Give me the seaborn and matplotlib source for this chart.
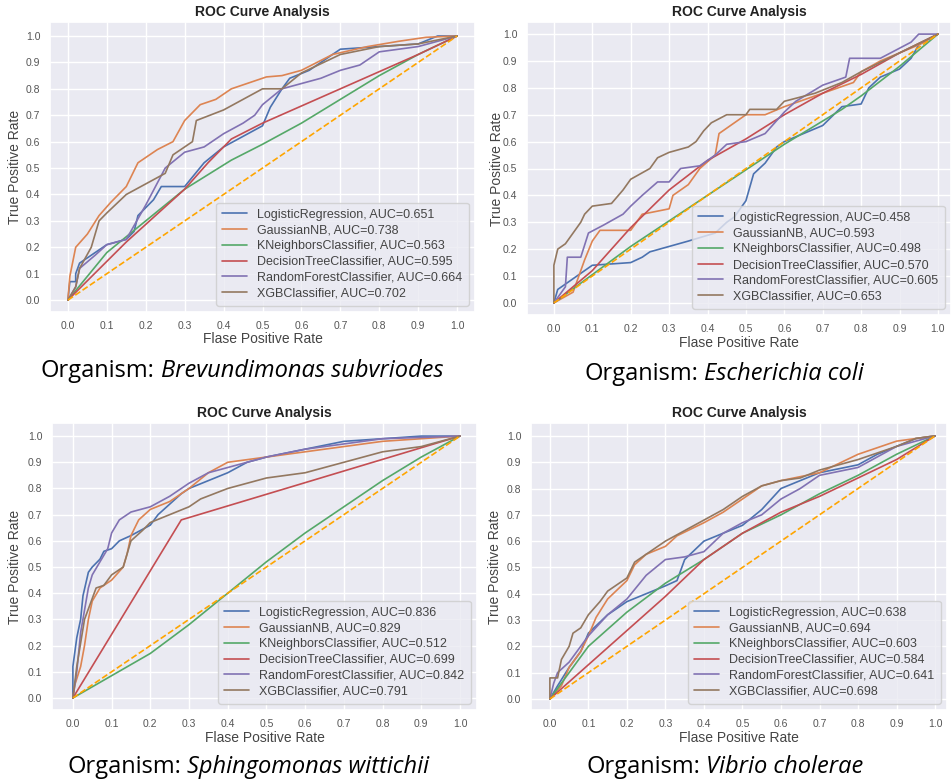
import matplotlib
matplotlib.use("Agg")
import matplotlib.pyplot as plt
import seaborn as sns
import pandas as pd

# ---------------------------------------------------------------- data
MODELS = ["LogisticRegression", "GaussianNB", "KNeighborsClassifier",
          "DecisionTreeClassifier", "RandomForestClassifier", "XGBClassifier"]

# Brevundimonas subvriodes
BREV_AUC = [0.651, 0.738, 0.563, 0.595, 0.664, 0.702]
BREV_LR = [(0, 0), (0.005, 0.07), (0.02, 0.07), (0.02, 0.1), (0.03, 0.14), (0.06, 0.17), (0.1, 0.21),
           (0.15, 0.23), (0.17, 0.26), (0.18, 0.32), (0.22, 0.38), (0.24, 0.43), (0.3, 0.43), (0.35, 0.52),
           (0.4, 0.58), (0.45, 0.62), (0.5, 0.66), (0.52, 0.73), (0.55, 0.8), (0.57, 0.84), (0.62, 0.87),
           (0.65, 0.9), (0.7, 0.95), (0.8, 0.96), (0.9, 0.97), (0.95, 1.0), (1, 1)]
BREV_NB = [(0, 0), (0.005, 0.09), (0.02, 0.2), (0.05, 0.25), (0.08, 0.32), (0.11, 0.37), (0.15, 0.43),
           (0.18, 0.52), (0.23, 0.57), (0.27, 0.6), (0.3, 0.68), (0.34, 0.74), (0.38, 0.76), (0.42, 0.8),
           (0.46, 0.82), (0.51, 0.845), (0.55, 0.85), (0.6, 0.87), (0.68, 0.93), (0.77, 0.96), (0.85, 0.98),
           (0.92, 0.995), (1, 1)]
BREV_KNN = [(0, 0), (0.1, 0.18), (0.2, 0.3), (0.3, 0.42), (0.42, 0.53), (0.5, 0.59), (0.6, 0.67),
            (0.7, 0.76), (0.8, 0.85), (0.9, 0.93), (1, 1)]
BREV_DT = [(0, 0), (0.15, 0.22), (0.3, 0.42), (0.36, 0.52), (0.42, 0.61), (0.5, 0.67), (0.9, 0.93), (1, 1)]
BREV_RF = [(0, 0), (0.02, 0.05), (0.03, 0.12), (0.07, 0.17), (0.1, 0.21), (0.15, 0.23), (0.2, 0.36),
           (0.25, 0.5), (0.3, 0.56), (0.35, 0.58), (0.4, 0.63), (0.45, 0.67), (0.48, 0.7), (0.5, 0.74),
           (0.55, 0.8), (0.6, 0.82), (0.65, 0.84), (0.7, 0.87), (0.75, 0.89), (0.8, 0.94), (0.9, 0.96), (1, 1)]
BREV_XGB = [(0, 0), (0.02, 0.05), (0.03, 0.12), (0.06, 0.2), (0.08, 0.3), (0.1, 0.33), (0.15, 0.4),
            (0.2, 0.44), (0.25, 0.48), (0.27, 0.55), (0.32, 0.6), (0.33, 0.68), (0.4, 0.72), (0.45, 0.76),
            (0.5, 0.8), (0.55, 0.8), (0.6, 0.86), (0.7, 0.93), (0.8, 0.96), (0.9, 0.97), (1, 1)]

# Escherichia coli
ECOLI_AUC = [0.458, 0.593, 0.498, 0.570, 0.605, 0.653]
ECOLI_LR = [(0, 0), (0.01, 0.05), (0.03, 0.07), (0.08, 0.12), (0.1, 0.14), (0.2, 0.15), (0.23, 0.17),
            (0.25, 0.19), (0.3, 0.21), (0.35, 0.23), (0.42, 0.26), (0.45, 0.3), (0.47, 0.32), (0.5, 0.38),
            (0.52, 0.48), (0.55, 0.52), (0.58, 0.58), (0.6, 0.6), (0.65, 0.63), (0.7, 0.66), (0.75, 0.73),
            (0.8, 0.74), (0.82, 0.8), (0.85, 0.84), (0.9, 0.87), (0.93, 0.91), (0.95, 0.96), (1, 1)]
ECOLI_NB = [(0, 0), (0.05, 0.04), (0.07, 0.12), (0.08, 0.16), (0.1, 0.23), (0.12, 0.27), (0.2, 0.27),
            (0.23, 0.33), (0.3, 0.35), (0.31, 0.4), (0.35, 0.44), (0.38, 0.5), (0.42, 0.55), (0.43, 0.63),
            (0.46, 0.66), (0.5, 0.7), (0.55, 0.7), (0.6, 0.73), (0.7, 0.78), (0.78, 0.82), (0.8, 0.86),
            (0.85, 0.9), (0.9, 0.93), (0.95, 0.96), (1, 1)]
ECOLI_KNN = [(0, 0), (0.2, 0.21), (0.4, 0.4), (0.6, 0.59), (0.75, 0.72), (0.8, 0.77), (0.9, 0.88), (1, 1)]
ECOLI_DT = [(0, 0), (0.1, 0.12), (0.2, 0.28), (0.3, 0.42), (0.4, 0.53), (0.5, 0.61), (0.6, 0.7),
            (0.7, 0.78), (0.8, 0.85), (0.9, 0.93), (1, 1)]
ECOLI_RF = [(0, 0), (0.03, 0.06), (0.035, 0.17), (0.07, 0.17), (0.09, 0.26), (0.13, 0.29), (0.18, 0.33),
            (0.2, 0.36), (0.23, 0.4), (0.27, 0.45), (0.3, 0.45), (0.33, 0.5), (0.38, 0.51), (0.42, 0.55),
            (0.45, 0.59), (0.5, 0.6), (0.55, 0.63), (0.6, 0.71), (0.63, 0.75), (0.7, 0.81), (0.76, 0.84),
            (0.77, 0.91), (0.85, 0.91), (0.93, 0.97), (0.95, 1.0), (1, 1)]
ECOLI_XGB = [(0, 0), (0, 0.14), (0.01, 0.2), (0.03, 0.22), (0.05, 0.26), (0.07, 0.3), (0.08, 0.33),
             (0.1, 0.36), (0.15, 0.37), (0.18, 0.42), (0.2, 0.46), (0.25, 0.5), (0.27, 0.54), (0.3, 0.56),
             (0.35, 0.58), (0.37, 0.6), (0.39, 0.64), (0.41, 0.67), (0.45, 0.7), (0.5, 0.7), (0.51, 0.72),
             (0.58, 0.72), (0.6, 0.75), (0.68, 0.78), (0.75, 0.82), (0.8, 0.86), (0.9, 0.93), (1, 1)]

# Sphingomonas wittichii
SPH_AUC = [0.836, 0.829, 0.512, 0.699, 0.842, 0.791]
SPH_LR = [(0, 0), (0, 0.12), (0.01, 0.23), (0.02, 0.3), (0.026, 0.39), (0.04, 0.48), (0.05, 0.5),
          (0.07, 0.53), (0.08, 0.56), (0.1, 0.57), (0.12, 0.6), (0.15, 0.62), (0.2, 0.66), (0.22, 0.7),
          (0.25, 0.74), (0.28, 0.78), (0.3, 0.8), (0.35, 0.83), (0.4, 0.86), (0.45, 0.9), (0.5, 0.92),
          (0.6, 0.95), (0.7, 0.98), (0.8, 0.99), (0.9, 1.0), (1, 1)]
SPH_NB = [(0, 0), (0.005, 0.05), (0.02, 0.12), (0.03, 0.2), (0.04, 0.3), (0.05, 0.37), (0.07, 0.42),
          (0.1, 0.45), (0.13, 0.5), (0.14, 0.55), (0.15, 0.62), (0.17, 0.68), (0.2, 0.72), (0.25, 0.75),
          (0.3, 0.8), (0.35, 0.86), (0.4, 0.9), (0.5, 0.92), (0.6, 0.94), (0.7, 0.96), (0.8, 0.98),
          (0.9, 0.99), (1, 1)]
SPH_KNN = [(0, 0), (0.2, 0.17), (0.3, 0.28), (0.4, 0.4), (0.5, 0.52), (0.6, 0.63), (0.7, 0.73),
           (0.8, 0.83), (0.9, 0.92), (1, 1)]
SPH_DT = [(0, 0), (0.28, 0.68), (1, 1)]
SPH_RF = [(0, 0), (0.01, 0.1), (0.02, 0.25), (0.04, 0.42), (0.05, 0.47), (0.07, 0.52), (0.09, 0.57),
          (0.1, 0.63), (0.12, 0.68), (0.15, 0.71), (0.2, 0.73), (0.25, 0.77), (0.3, 0.82), (0.35, 0.86),
          (0.4, 0.88), (0.5, 0.92), (0.6, 0.95), (0.7, 0.97), (0.8, 0.99), (1, 1)]
SPH_XGB = [(0, 0), (0.01, 0.12), (0.03, 0.3), (0.05, 0.38), (0.06, 0.42), (0.08, 0.43), (0.1, 0.47),
           (0.13, 0.5), (0.15, 0.6), (0.18, 0.64), (0.2, 0.67), (0.25, 0.7), (0.3, 0.73), (0.33, 0.76),
           (0.4, 0.8), (0.5, 0.84), (0.6, 0.86), (0.7, 0.9), (0.8, 0.94), (0.9, 0.96), (1, 1)]

# Vibrio cholerae
VIB_AUC = [0.638, 0.694, 0.603, 0.584, 0.641, 0.698]
VIB_LR = [(0, 0), (0.02, 0.05), (0.05, 0.12), (0.08, 0.18), (0.1, 0.25), (0.15, 0.32), (0.2, 0.37),
          (0.25, 0.4), (0.3, 0.43), (0.33, 0.45), (0.35, 0.53), (0.4, 0.6), (0.45, 0.63), (0.5, 0.66),
          (0.55, 0.72), (0.6, 0.8), (0.65, 0.83), (0.7, 0.86), (0.8, 0.89), (0.85, 0.93), (0.95, 0.99), (1, 1)]
VIB_NB = [(0, 0), (0.03, 0.05), (0.05, 0.12), (0.08, 0.18), (0.1, 0.24), (0.12, 0.31), (0.15, 0.38),
          (0.2, 0.45), (0.22, 0.51), (0.25, 0.55), (0.3, 0.58), (0.33, 0.62), (0.4, 0.67), (0.45, 0.71),
          (0.5, 0.76), (0.55, 0.81), (0.6, 0.83), (0.7, 0.86), (0.8, 0.93), (0.9, 0.98), (1, 1)]
VIB_KNN = [(0, 0), (0.05, 0.1), (0.1, 0.2), (0.2, 0.33), (0.3, 0.44), (0.4, 0.53), (0.5, 0.63),
           (0.6, 0.7), (0.7, 0.78), (0.8, 0.85), (0.9, 0.93), (1, 1)]
VIB_DT = [(0, 0), (0.1, 0.13), (0.2, 0.26), (0.3, 0.39), (0.4, 0.53), (0.5, 0.63), (0.6, 0.71),
          (0.7, 0.77), (0.8, 0.84), (0.9, 0.91), (1, 1)]
VIB_RF = [(0, 0), (0.01, 0.06), (0.02, 0.1), (0.05, 0.14), (0.1, 0.24), (0.15, 0.32), (0.2, 0.38),
          (0.25, 0.47), (0.3, 0.53), (0.35, 0.54), (0.4, 0.56), (0.45, 0.63), (0.5, 0.67), (0.55, 0.7),
          (0.6, 0.76), (0.65, 0.8), (0.7, 0.85), (0.8, 0.88), (0.9, 0.96), (1, 1)]
VIB_XGB = [(0, 0), (0, 0.08), (0.02, 0.08), (0.03, 0.15), (0.05, 0.2), (0.06, 0.25), (0.08, 0.27),
           (0.1, 0.32), (0.13, 0.37), (0.15, 0.41), (0.2, 0.46), (0.22, 0.52), (0.25, 0.55), (0.3, 0.6),
           (0.35, 0.64), (0.4, 0.68), (0.45, 0.72), (0.5, 0.77), (0.55, 0.81), (0.6, 0.83), (0.65, 0.84),
           (0.7, 0.87), (0.8, 0.91), (0.9, 0.96), (0.95, 0.99), (1, 1)]

PANELS = [
    ("Brevundimonas subvriodes", BREV_AUC, [BREV_LR, BREV_NB, BREV_KNN, BREV_DT, BREV_RF, BREV_XGB]),
    ("Escherichia coli", ECOLI_AUC, [ECOLI_LR, ECOLI_NB, ECOLI_KNN, ECOLI_DT, ECOLI_RF, ECOLI_XGB]),
    ("Sphingomonas wittichii", SPH_AUC, [SPH_LR, SPH_NB, SPH_KNN, SPH_DT, SPH_RF, SPH_XGB]),
    ("Vibrio cholerae", VIB_AUC, [VIB_LR, VIB_NB, VIB_KNN, VIB_DT, VIB_RF, VIB_XGB]),
]

# ---------------------------------------------------------------- layout (pixels)
W, H = 951, 783
# axes boxes: left, top, right, bottom
BOXES = [(50, 22, 475, 312), (527, 22, 951, 315), (52, 423, 477, 710), (531, 423, 947, 710)]
XLIMS = [(-0.046, 1.046), (-0.07, 1.034), (-0.054, 1.044), (-0.049, 1.031)]
YLIMS = [(-0.045, 1.053), (-0.045, 1.045), (-0.046, 1.05), (-0.042, 1.049)]
# x-axis label centre (y) and y-axis label centre (x)
XLABEL_Y = [339, 343, 738, 738]
YLABEL_X = [15, 497, 15, 495]
# caption centre x and baseline y
CAPTIONS = [(242, 377), (724, 380), (248, 773), (725, 773)]

sns.set_theme(style="darkgrid", palette="deep")
plt.rcParams["font.family"] = ["Liberation Sans", "DejaVu Sans"]

fig = plt.figure(figsize=(W / 100, H / 100), dpi=100)
fig.patch.set_facecolor("white")
palette = sns.color_palette("deep", 6)
ticks = [i / 10 for i in range(11)]

for (species, aucs, curves), box, xl, yl, xly, ylx in zip(PANELS, BOXES, XLIMS, YLIMS,
                                                         XLABEL_Y, YLABEL_X):
    l, t, r, b = box
    ax = fig.add_axes([l / W, 1 - b / H, (r - l) / W, (b - t) / H])
    rows = []
    for model, auc, pts in zip(MODELS, aucs, curves):
        label = f"{model}, AUC={auc:.3f}"
        for fx, ty in pts:
            rows.append({"fpr": fx, "tpr": ty, "label": label})
    df = pd.DataFrame(rows)
    sns.lineplot(data=df, x="fpr", y="tpr", hue="label", palette=palette,
                 sort=False, estimator=None, linewidth=1.2, ax=ax)
    ax.plot([0, 1], [0, 1], color="orange", linestyle="--", linewidth=1.2)
    ax.set_xlim(*xl)
    ax.set_ylim(*yl)
    ax.set_xticks(ticks)
    ax.set_yticks(ticks)
    ax.set_xticklabels([f"{v:.1f}" for v in ticks])
    ax.set_yticklabels([f"{v:.1f}" for v in ticks])
    ax.tick_params(length=0, labelsize=7.5, labelcolor="#555555")
    ax.tick_params(axis="x", pad=6.5)
    ax.tick_params(axis="y", pad=7)
    ax.set_title("ROC Curve Analysis", fontsize=10, fontweight="bold", pad=4, color="#222222")
    ax.set_xlabel("Flase Positive Rate", fontsize=10, color="#444444", va="center")
    ax.set_ylabel("True Positive Rate", fontsize=10, color="#444444", va="center")
    ax.xaxis.set_label_coords(0.5, (b - xly) / (b - t))
    ax.yaxis.set_label_coords((ylx - l) / (r - l), 0.5)
    ax.legend(loc="lower right", fontsize=9, labelspacing=0.3, handlelength=2.0,
              borderpad=0.5, handletextpad=0.8, borderaxespad=0.5)
    for leg_txt in ax.get_legend().get_texts():
        leg_txt.set_color("#444444")

# captions beneath each chart: regular prefix, italic species name
renderer = fig.canvas.get_renderer()
CAP_FONT = ["Open Sans", "DejaVu Sans"]
CAP_SIZE = 17
for (species, _, _), (cx, cy) in zip(PANELS, CAPTIONS):
    t1 = fig.text(0, 1 - cy / H, "Organism:", fontsize=CAP_SIZE, family=CAP_FONT,
                  ha="left", va="baseline", color="black")
    t2 = fig.text(0, 1 - cy / H, species, fontsize=CAP_SIZE, family=CAP_FONT,
                  style="italic", ha="left", va="baseline", color="black")
    w1 = t1.get_window_extent(renderer).width
    w2 = t2.get_window_extent(renderer).width
    gap = CAP_SIZE * 0.35
    x0 = cx - (w1 + gap + w2) / 2
    t1.set_x(x0 / W)
    t2.set_x((x0 + w1 + gap) / W)

fig.savefig("out.png", dpi=100, facecolor="white")
